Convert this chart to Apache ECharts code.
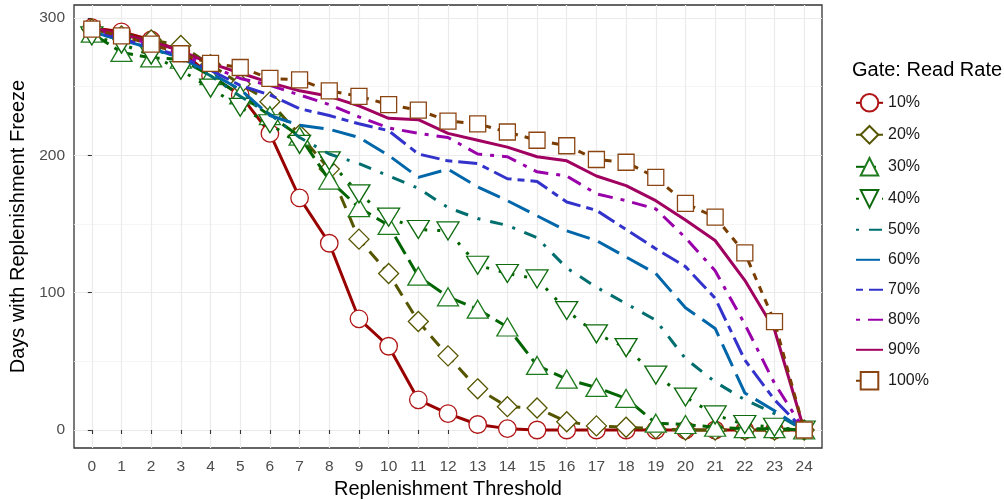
<!DOCTYPE html>
<html>
<head>
<meta charset="utf-8">
<script src="https://cdn.jsdelivr.net/npm/echarts@6/dist/echarts.min.js"></script>
<style>
  html, body { margin: 0; padding: 0; background: #ffffff; }
  #chart { width: 1004px; height: 500px; }
</style>
</head>
<body>
<div id="chart"></div>
<script>
// Replenishment threshold (x) and tick values
const thresholds = [0, 1, 2, 3, 4, 5, 6, 7, 8, 9, 10, 11, 12, 13, 14, 15, 16, 17, 18, 19, 20, 21, 22, 23, 24];
const xTicks = thresholds;
const yTicks = [0, 100, 200, 300];
const yMinorTicks = [50, 150, 250];

// Gate read rates
const rateNames = ['10%', '20%', '30%', '40%', '50%', '60%', '70%', '80%', '90%', '100%'];

// Days with replenishment freeze, per read rate
const rate10  = [293, 290, 284, 276, 258, 244, 216, 169, 136, 81, 61, 22, 12, 4, 1, 0, 0, 0, 0, 0, 0, 0, 0, 0, 0];
const rate20  = [292, 287, 284, 280, 266, 252, 239, 215, 190, 139, 114, 79, 54, 30, 17, 16, 6, 3, 2, 1, 0, 0, 0, 0, 0];
const rate30  = [289, 275, 271, 270, 258, 244, 229, 214, 182, 162, 149, 112, 97, 88, 75, 47, 37, 31, 23, 5, 4, 2, 1, 1, 0];
const rate40  = [287, 281, 273, 262, 249, 235, 223, 208, 196, 172, 155, 146, 145, 120, 114, 110, 87, 70, 60, 40, 24, 11, 4, 2, 0];
const rate50  = [290, 284, 278, 270, 258, 243, 230, 213, 201, 194, 185, 176, 162, 154, 149, 140, 118, 104, 92, 80, 52, 35, 22, 12, 0];
const rate60  = [290, 284, 278, 271, 260, 248, 229, 222, 219, 213, 200, 184, 190, 177, 167, 156, 145, 138, 126, 114, 89, 74, 27, 14, 0];
const rate70  = [291, 285, 279, 272, 262, 251, 244, 234, 229, 223, 218, 201, 196, 194, 183, 181, 166, 160, 146, 132, 119, 96, 51, 22, 0];
const rate80  = [292, 287, 281, 274, 265, 256, 251, 244, 237, 228, 220, 216, 213, 201, 199, 188, 185, 172, 167, 161, 140, 116, 77, 34, 0];
const rate90  = [293, 288, 283, 276, 267, 260, 253, 247, 243, 236, 227, 226, 216, 211, 206, 199, 196, 185, 178, 167, 153, 138, 109, 73, 0];
const rate100 = [292, 287, 281, 274, 267, 264, 256, 255, 247, 243, 237, 233, 225, 223, 217, 211, 207, 197, 195, 184, 165, 155, 129, 79, 0];

const rateValues = [rate10, rate20, rate30, rate40, rate50, rate60, rate70, rate80, rate90, rate100];

// Per-series look: line colour and dash, marker shape and outline
const styles = [
  { line: '#990000', dash: 'solid',            symbol: 'circle',   size: 17.5,     rotate: 0,   mark: '#B01515' },
  { line: '#555500', dash: [13, 8],            symbol: 'diamond',  size: 20,       rotate: 0,   mark: '#555500' },
  { line: '#006400', dash: [20, 7],            symbol: 'triangle', size: [21, 18], rotate: 0,   mark: '#1E7B1E' },
  { line: '#006400', dash: [3, 10],            symbol: 'triangle', size: [22, 18], rotate: 180, mark: '#0D6B0D' },
  { line: '#006E6E', dash: [3, 10, 13, 10],    symbol: 'none' },
  { line: '#0066AA', dash: [24, 9],            symbol: 'none' },
  { line: '#3333CC', dash: [7, 6, 19, 6],      symbol: 'none' },
  { line: '#9900AA', dash: [4, 8, 15, 8],      symbol: 'none' },
  { line: '#A00060', dash: 'solid',            symbol: 'none' },
  { line: '#7A3D00', dash: [7, 7],             symbol: 'rect',     size: 16,       rotate: 0,   mark: '#8B4513' }
];

const FONT = 'Liberation Sans, Arial, sans-serif';

const series = rateNames.map((name, i) => {
  const st = styles[i];
  const hasMark = st.symbol !== 'none';
  return {
    name: name,
    type: 'line',
    data: thresholds.map((t, k) => [t, rateValues[i][k]]),
    clip: false,
    symbol: hasMark ? st.symbol : 'none',
    symbolSize: hasMark ? st.size : 0,
    symbolRotate: hasMark ? st.rotate : 0,
    showSymbol: hasMark,
    lineStyle: { color: st.line, width: 3, type: st.dash, cap: 'butt', join: 'round' },
    itemStyle: hasMark
      ? { color: '#ffffff', borderColor: st.mark, borderWidth: 1.3 }
      : { color: st.line },
    emphasis: { disabled: true },
    silent: true,
    z: 2 + i * 0.01
  };
});

const legendData = rateNames.map((name, i) => {
  const item = { name: name };
  if (styles[i].symbol === 'none') item.itemStyle = { opacity: 0 };
  return item;
});

const chart = echarts.init(document.getElementById('chart'), null, { renderer: 'canvas' });
chart.setOption({
  animation: false,
  backgroundColor: '#ffffff',
  textStyle: { fontFamily: FONT },
  title: {
    text: 'Gate: Read Rate',
    left: 852,
    top: 60,
    padding: 0,
    textStyle: { fontFamily: FONT, fontSize: 20, fontWeight: 'normal', color: '#000000' }
  },
  legend: {
    data: legendData,
    orient: 'vertical',
    left: 855,
    top: 93,
    padding: 0,
    itemWidth: 27,
    itemHeight: 22,
    itemGap: 12.4,
    selectedMode: false,
    textStyle: { fontFamily: FONT, fontSize: 16, color: '#1A1A1A' }
  },
  grid: {
    left: 74,
    top: 5,
    width: 748,
    height: 443,
    show: true,
    backgroundColor: '#ffffff',
    borderColor: '#333333',
    borderWidth: 1.3,
    containLabel: false,
    outerBoundsMode: 'none'
  },
  xAxis: {
    type: 'value',
    min: -0.6,
    max: 24.6,
    name: 'Replenishment Threshold',
    nameLocation: 'middle',
    nameGap: 31,
    nameTextStyle: { fontFamily: FONT, fontSize: 20, color: '#000000' },
    axisLine: { show: false },
    axisTick: { show: true, customValues: xTicks, length: 4, lineStyle: { color: '#333333', width: 1.1 } },
    axisLabel: { customValues: xTicks, color: '#4D4D4D', fontSize: 15.5, fontFamily: FONT, margin: 11 },
    splitLine: { show: true, lineStyle: { color: '#EBEBEB', width: 1.2 } }
  },
  yAxis: [
    {
      type: 'value',
      min: -13.1,
      max: 309.5,
      name: 'Days with Replenishment Freeze',
      nameLocation: 'middle',
      nameGap: 46,
      nameRotate: 90,
      nameTextStyle: { fontFamily: FONT, fontSize: 20, color: '#000000' },
      axisLine: { show: false },
      axisTick: { show: true, customValues: yTicks, length: 4, lineStyle: { color: '#333333', width: 1.1 } },
      axisLabel: { customValues: yTicks, color: '#4D4D4D', fontSize: 15.5, fontFamily: FONT, margin: 9 },
      splitLine: { show: true, lineStyle: { color: '#EBEBEB', width: 1.2 } }
    },
    {
      type: 'value',
      min: -13.1,
      max: 309.5,
      position: 'left',
      axisLine: { show: false },
      axisTick: { show: false, customValues: yMinorTicks },
      axisLabel: { show: false, customValues: yMinorTicks },
      splitLine: { show: true, lineStyle: { color: '#F2F2F2', width: 0.8 } }
    }
  ],
  series: series
});
</script>
</body>
</html>
